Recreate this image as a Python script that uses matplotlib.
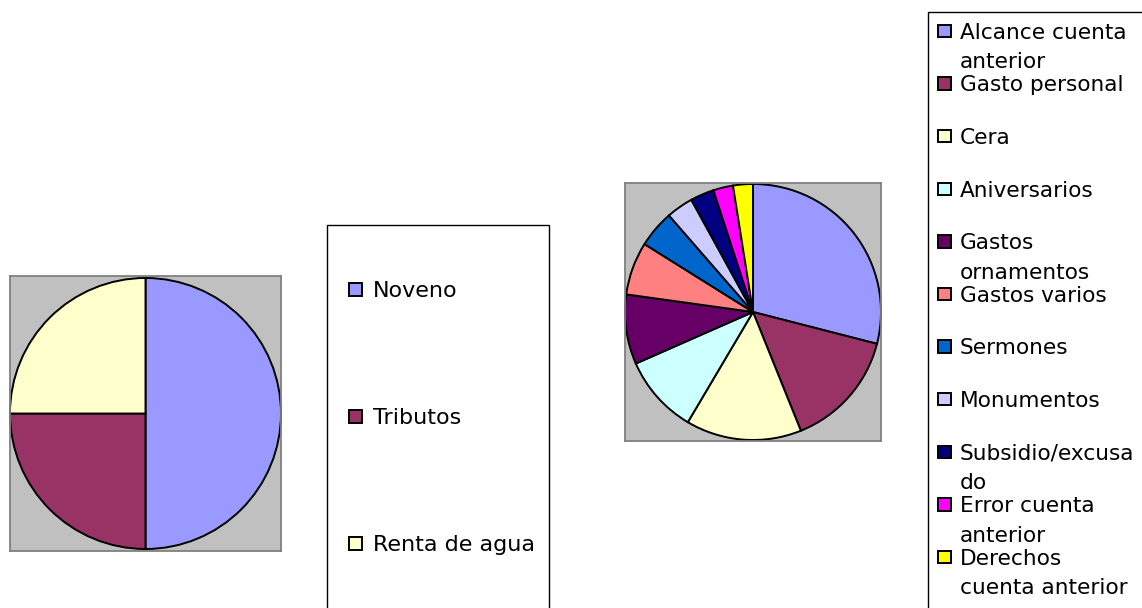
import matplotlib
matplotlib.use("Agg")
import matplotlib.pyplot as plt
from matplotlib.patches import Rectangle

# ---- data ----
ingresos_labels = ["Noveno", "Tributos", "Renta de agua"]
ingresos_values = [50.0, 25.0, 25.0]
ingresos_colors = ["#9999FF", "#993366", "#FFFFCC"]

gastos_labels = ["Alcance cuenta\nanterior", "Gasto personal", "Cera", "Aniversarios",
                 "Gastos\nornamentos", "Gastos varios", "Sermones", "Monumentos",
                 "Subsidio/excusa\ndo", "Error cuenta\nanterior", "Derechos\ncuenta anterior"]
gastos_values = [29.0, 14.9, 14.6, 9.9, 8.8, 6.7, 4.7, 3.4, 3.0, 2.5, 2.5]
gastos_colors = ["#9999FF", "#993366", "#FFFFCC", "#CCFFFF", "#660066", "#FF8080",
                 "#0066CC", "#CCCCFF", "#000080", "#FF00FF", "#FFFF00"]

W, H = 1142, 608
fig = plt.figure(figsize=(W / 100, H / 100), dpi=100)
fig.patch.set_facecolor("white")

FONT = "DejaVu Sans"


def px_axes(x0, y0, x1, y1):
    return fig.add_axes([x0 / W, 1 - y1 / H, (x1 - x0) / W, (y1 - y0) / H])


def pie_axes(x0, y0, x1, y1, values, colors):
    ax = px_axes(x0, y0, x1, y1)
    ax.pie(values, colors=colors, startangle=90, counterclock=False, radius=1.0,
           wedgeprops=dict(edgecolor="black", linewidth=1.4), frame=True)
    ax.set_aspect("equal", adjustable="datalim")
    ax.set_xlim(-1.0, 1.0)
    ax.set_ylim(-1.0, 1.0)
    ax.set_facecolor("#C0C0C0")
    ax.set_xticks([])
    ax.set_yticks([])
    for s in ax.spines.values():
        s.set_color("#808080")
        s.set_linewidth(1.3)
    return ax


pie_axes(10, 276, 281, 551, ingresos_values, ingresos_colors)
pie_axes(625, 183, 881, 441, gastos_values, gastos_colors)

# overlay in pixel coordinates for legends
ov = fig.add_axes([0, 0, 1, 1])
ov.set_xlim(0, W)
ov.set_ylim(H, 0)
ov.axis("off")


def legend_box(x0, y0, x1, y1, labels, colors, mx, tx, y_first, step, fs, msize, lsp):
    ov.add_patch(Rectangle((x0, y0), x1 - x0, y1 - y0, facecolor="white",
                           edgecolor="black", linewidth=1.0))
    for i, (lab, col) in enumerate(zip(labels, colors)):
        yc = y_first + step * i
        ov.add_patch(Rectangle((mx, yc - msize / 2), msize, msize, facecolor=col,
                               edgecolor="black", linewidth=1.4))
        for j, line in enumerate(lab.split("\n")):
            ov.text(tx, yc + 7.8 + lsp * j, line, fontsize=fs, family=FONT,
                    ha="left", va="baseline", color="black")


legend_box(327, 225, 549, 700, ingresos_labels, ingresos_colors,
           349, 373, 289, 127.3, 16, 13, 29)
legend_box(928, 12, 1300, 700, gastos_labels, gastos_colors,
           938, 960, 31, 52.6, 15.6, 12.5, 29.5)

fig.savefig("out.png", dpi=100, facecolor="white")
